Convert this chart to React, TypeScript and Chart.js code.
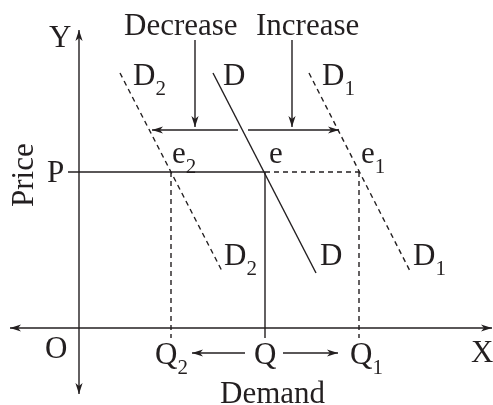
import React, { useEffect, useRef } from "react";
import { Chart, registerables } from "chart.js";

Chart.register(...registerables);

// Coordinates: quantity (x) and price (y), origin O at 0,0
const PRICE_P = 156;
const Q2 = 92;
const Q0 = 186;
const Q1 = 280;

// demand curves (top point, bottom point)
const curveD = [{ x: 134, y: 255 }, { x: 237, y: 55 }];
const curveD2 = [{ x: 41, y: 255 }, { x: 144, y: 55 }];
const curveD1 = [{ x: 230, y: 255 }, { x: 332, y: 55 }];

// axes
const axisY = [{ x: 0, y: 298 }, { x: 0, y: -66 }];
const axisX = [{ x: -69, y: 0 }, { x: 413, y: 0 }];

// guide lines
const priceSolid = [{ x: -11, y: PRICE_P }, { x: Q0, y: PRICE_P }];
const priceDashed = [{ x: Q0, y: PRICE_P }, { x: Q1, y: PRICE_P }];
const dropQ2 = [{ x: Q2, y: PRICE_P }, { x: Q2, y: -10 }];
const dropQ = [{ x: Q0, y: PRICE_P }, { x: Q0, y: -10 }];
const dropQ1 = [{ x: Q1, y: PRICE_P }, { x: Q1, y: -10 }];

// shift arrows
const decreaseDown = [{ x: 116, y: 288 }, { x: 116, y: 201 }];
const increaseDown = [{ x: 213, y: 288 }, { x: 213, y: 201 }];
const shiftLeft = [{ x: 159, y: 198 }, { x: 73, y: 198 }];
const shiftRight = [{ x: 169, y: 198 }, { x: 260, y: 198 }];
const qtyLeft = [{ x: 166, y: -25 }, { x: 113, y: -25 }];
const qtyRight = [{ x: 204, y: -25 }, { x: 259, y: -25 }];

// text labels
const labels = [
  { text: "Y", sub: "", x: -30, y: 281 },
  { text: "Decrease", sub: "", x: 45, y: 293 },
  { text: "Increase", sub: "", x: 177, y: 293 },
  { text: "D", sub: "2", x: 54, y: 243 },
  { text: "D", sub: "", x: 144, y: 243 },
  { text: "D", sub: "1", x: 243, y: 243 },
  { text: "e", sub: "2", x: 93, y: 165 },
  { text: "e", sub: "", x: 190, y: 165 },
  { text: "e", sub: "1", x: 282, y: 165 },
  { text: "P", sub: "", x: -32, y: 146 },
  { text: "D", sub: "2", x: 145, y: 63 },
  { text: "D", sub: "", x: 241, y: 63 },
  { text: "D", sub: "1", x: 334, y: 63 },
  { text: "O", sub: "", x: -34, y: -30 },
  { text: "Q", sub: "2", x: 76, y: -36 },
  { text: "Q", sub: "", x: 175, y: -36 },
  { text: "Q", sub: "1", x: 271, y: -36 },
  { text: "X", sub: "", x: 392, y: -34 },
  { text: "Demand", sub: "", x: 141, y: -75 },
];
const yTitle = { text: "Price", x: -46, y: 121 };

const INK = "#231f20";
const FONT = '"Liberation Serif", "Times New Roman", serif';

function seg(data: { x: number; y: number }[], dashed: boolean, arrow: string) {
  return {
    data,
    showLine: true,
    borderColor: INK,
    borderWidth: 1.4,
    borderDash: dashed ? [5, 4] : [],
    pointRadius: 0,
    fill: false,
    arrow,
  } as any;
}

const arrowPlugin = {
  id: "arrowHeads",
  afterDatasetsDraw(chart: any) {
    const ctx = chart.ctx;
    const xs = chart.scales.x;
    const ys = chart.scales.y;
    const head = (from: any, to: any) => {
      const x1 = xs.getPixelForValue(from.x), y1 = ys.getPixelForValue(from.y);
      const x2 = xs.getPixelForValue(to.x), y2 = ys.getPixelForValue(to.y);
      const a = Math.atan2(y2 - y1, x2 - x1);
      const L = 11, W = 3.6, N = 8;
      ctx.save();
      ctx.translate(x2, y2);
      ctx.rotate(a);
      ctx.beginPath();
      ctx.moveTo(0, 0);
      ctx.lineTo(-L, -W);
      ctx.lineTo(-N, 0);
      ctx.lineTo(-L, W);
      ctx.closePath();
      ctx.fillStyle = INK;
      ctx.fill();
      ctx.restore();
    };
    chart.data.datasets.forEach((ds: any) => {
      const d = ds.data;
      if (ds.arrow === "end" || ds.arrow === "both") head(d[0], d[1]);
      if (ds.arrow === "both") head(d[1], d[0]);
    });
  },
};

const labelPlugin = {
  id: "textLabels",
  afterDraw(chart: any) {
    const ctx = chart.ctx;
    const xs = chart.scales.x;
    const ys = chart.scales.y;
    ctx.save();
    ctx.fillStyle = INK;
    ctx.textBaseline = "alphabetic";
    ctx.textAlign = "left";
    labels.forEach((l) => {
      const px = xs.getPixelForValue(l.x);
      const py = ys.getPixelForValue(l.y);
      ctx.font = `31px ${FONT}`;
      ctx.fillText(l.text, px, py);
      if (l.sub) {
        const w = ctx.measureText(l.text).width;
        ctx.font = `21px ${FONT}`;
        ctx.fillText(l.sub, px + w, py + 10);
      }
    });
    const tx = xs.getPixelForValue(yTitle.x);
    const ty = ys.getPixelForValue(yTitle.y);
    ctx.translate(tx, ty);
    ctx.rotate(-Math.PI / 2);
    ctx.font = `31px ${FONT}`;
    ctx.fillText(yTitle.text, 0, 0);
    ctx.restore();
  },
};

export default function App() {
  const ref = useRef<HTMLCanvasElement>(null);
  useEffect(() => {
    if (!ref.current) return;
    const chart = new Chart(ref.current, {
      type: "scatter",
      data: {
        datasets: [
          seg(axisY, false, "both"),
          seg(axisX, false, "both"),
          seg(priceSolid, false, "none"),
          seg(priceDashed, true, "none"),
          seg(dropQ2, true, "none"),
          seg(dropQ, false, "none"),
          seg(dropQ1, true, "none"),
          seg(curveD, false, "none"),
          seg(curveD2, true, "none"),
          seg(curveD1, true, "none"),
          seg(decreaseDown, false, "end"),
          seg(increaseDown, false, "end"),
          seg(shiftLeft, false, "end"),
          seg(shiftRight, false, "end"),
          seg(qtyLeft, false, "end"),
          seg(qtyRight, false, "end"),
        ],
      },
      options: {
        animation: false,
        responsive: false,
        maintainAspectRatio: false,
        layout: { padding: 0 },
        plugins: { legend: { display: false }, tooltip: { enabled: false }, title: { display: false } },
        events: [],
        scales: {
          x: { type: "linear", display: false, min: -79, max: 414 },
          y: { type: "linear", display: false, min: -77, max: 328 },
        },
      },
      plugins: [arrowPlugin, labelPlugin],
    });
    return () => chart.destroy();
  }, []);
  return (
    <div style={{ position: "absolute", left: 0, top: 0, width: 493, height: 405, background: "#fff" }}>
      <canvas ref={ref} width={493} height={405} style={{ width: 493, height: 405, display: "block" }} />
    </div>
  );
}
